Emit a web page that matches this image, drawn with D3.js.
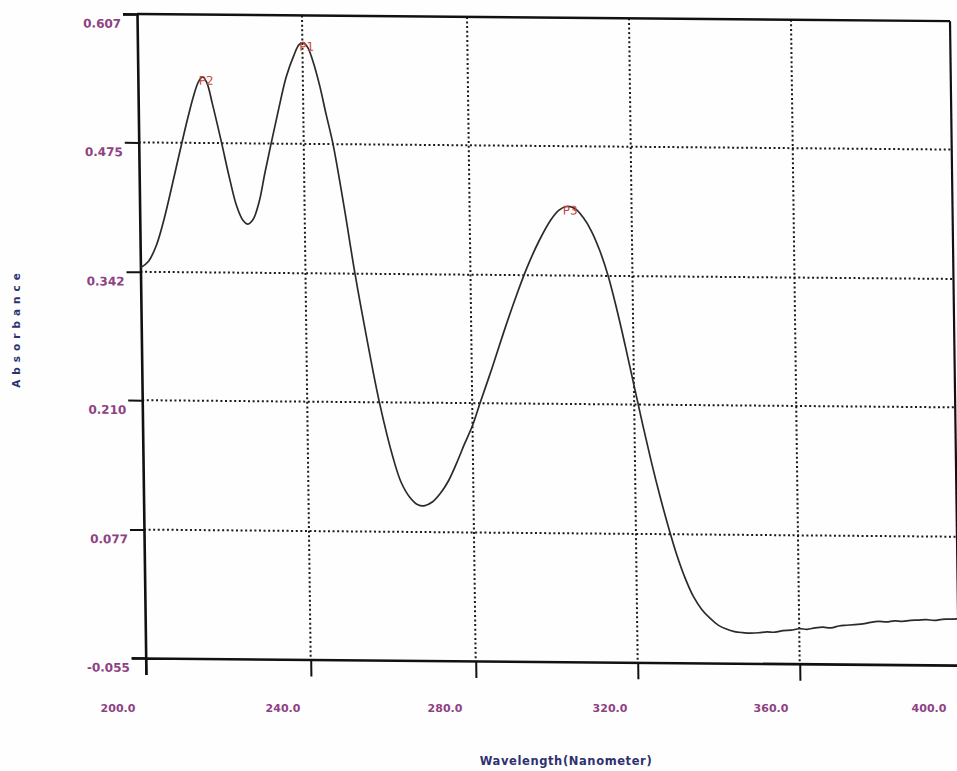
<!DOCTYPE html>
<html>
<head>
<meta charset="utf-8">
<script src="https://cdn.jsdelivr.net/npm/d3@7"></script>
<style>
  html, body { margin: 0; padding: 0; background: #ffffff; }
  svg { display: block; }
</style>
</head>
<body>
<svg id="chart" width="957" height="771"></svg>
<script>
// UV absorbance spectrum, 200–400 nm
const wavelength = [
  200.0, 202.0, 204.0, 206.0, 208.0, 210.0, 212.0, 213.5, 214.7, 215.7, 216.7, 218.0, 220.0, 222.0,
  223.5, 225.0, 226.2, 227.5, 229.0, 230.5, 232.2, 234.0, 236.0, 238.0, 239.2, 240.2, 241.3, 242.5,
  244.0, 245.5, 247.1, 249.6, 252.0, 254.8, 257.5, 260.7, 262.5, 264.5, 266.5, 268.0, 270.0, 272.0,
  274.0, 276.0, 278.0, 280.0, 282.0, 285.0, 288.0, 291.0, 294.0, 297.0, 300.0, 302.0, 304.0, 306.0,
  308.0, 310.0, 312.0, 314.0, 316.0, 318.0, 320.0, 322.0, 324.0, 326.0, 328.0, 330.0, 332.0, 334.0,
  336.0, 338.0, 340.0, 342.0, 344.0, 346.0, 348.0, 350.0, 352.0, 354.0, 356.0, 358.0, 360.0, 362.0,
  364.0, 366.0, 368.0, 370.0, 372.0, 374.0, 376.0, 378.0, 380.0, 382.0, 384.0, 386.0, 388.0, 390.0,
  392.0, 394.0, 396.0, 398.0, 400.0
];
const absorbance = [
  0.346, 0.353, 0.370, 0.398, 0.432, 0.467, 0.501, 0.524, 0.538, 0.543, 0.537, 0.515, 0.477, 0.437,
  0.411, 0.396, 0.392, 0.397, 0.415, 0.445, 0.477, 0.510, 0.544, 0.567, 0.577, 0.579, 0.574, 0.560,
  0.536, 0.506, 0.475, 0.410, 0.342, 0.272, 0.210, 0.152, 0.128, 0.113, 0.105, 0.104, 0.108, 0.117,
  0.130, 0.148, 0.168, 0.187, 0.211, 0.246, 0.283, 0.318, 0.350, 0.377, 0.399, 0.409, 0.413, 0.411,
  0.402, 0.388, 0.368, 0.342, 0.308, 0.270, 0.230, 0.190, 0.152, 0.117, 0.085, 0.056, 0.032, 0.013,
  0.000, -0.009, -0.016, -0.020, -0.0225, -0.0235, -0.024, -0.0235, -0.0225, -0.0228, -0.021, -0.0205, -0.019, -0.0195,
  -0.018, -0.0172, -0.0178, -0.0158, -0.015, -0.0142, -0.0135, -0.0118, -0.0108, -0.0112, -0.010, -0.0104, -0.0094, -0.009,
  -0.0085, -0.0092, -0.008, -0.0078, -0.0073
];

// Marked peaks
const peakNames = ["P1", "P2", "P3"];
const peakWavelength = [240.2, 215.7, 304.0];
const peakAbsorbance = [0.579, 0.543, 0.413];

// Axis ticks
const xTicks = [200, 240, 280, 320, 360, 400];
const xTickLabels = ["200.0", "240.0", "280.0", "320.0", "360.0", "400.0"];
const yTicks = [-0.055, 0.077, 0.210, 0.342, 0.475, 0.607];
const yTickLabels = ["-0.055", "0.077", "0.210", "0.342", "0.475", "0.607"];

const svg = d3.select("#chart");
const W = 813, H = 644;

svg.append("rect").attr("width", 957).attr("height", 771).attr("fill", "#fefefe");

// x is piecewise so the grid keeps the slight perspective of the printout
const x = d3.scaleLinear().domain(xTicks).range([0, 165, 330, 492, 654, 813]);
const y = d3.scaleLinear().domain([-0.055, 0.607]).range([H, 0]);

// plot area, slightly sheared like a printed page on a scanner bed
const g = svg.append("g").attr("transform", "matrix(1,0.0088,0.0135,1,137,14)");

// dotted grid
g.append("g").selectAll("line").data(xTicks.slice(1, -1)).join("line")
  .attr("x1", d => x(d)).attr("x2", d => x(d)).attr("y1", 0).attr("y2", H)
  .attr("stroke", "#1a1a1a").attr("stroke-width", 2).attr("stroke-dasharray", "2,2.6");
g.append("g").selectAll("line").data(yTicks.slice(1, -1)).join("line")
  .attr("x1", 0).attr("x2", W).attr("y1", d => y(d)).attr("y2", d => y(d))
  .attr("stroke", "#1a1a1a").attr("stroke-width", 2).attr("stroke-dasharray", "2,2.6");

// left axis with outward ticks
const yAxis = d3.axisLeft(y).tickValues(yTicks).tickSize(14).tickFormat("");
const ya = g.append("g").call(yAxis);
ya.select(".domain").attr("stroke", "#111").attr("stroke-width", 2.6);
ya.selectAll(".tick line").attr("stroke", "#111").attr("stroke-width", 2);

// bottom axis with outward ticks
const xAxis = d3.axisBottom(x).tickValues(xTicks).tickSize(17).tickFormat("");
const xa = g.append("g").attr("transform", `translate(0,${H})`).call(xAxis);
xa.select(".domain").attr("stroke", "#111").attr("stroke-width", 2.6);
xa.selectAll(".tick line").attr("stroke", "#111").attr("stroke-width", 2);

// top and right frame
g.append("line").attr("x1", 0).attr("x2", W).attr("y1", 0).attr("y2", 0)
  .attr("stroke", "#111").attr("stroke-width", 2.4);
g.append("line").attr("x1", W).attr("x2", W).attr("y1", 0).attr("y2", H)
  .attr("stroke", "#111").attr("stroke-width", 2.2);

// y tick labels
g.append("g").selectAll("text").data(yTicks).join("text")
  .attr("x", -16).attr("y", d => y(d) + 14)
  .attr("text-anchor", "end")
  .attr("font-family", "DejaVu Sans, Verdana, sans-serif")
  .attr("font-size", 12).attr("font-weight", "bold")
  .attr("fill", "#8e4283")
  .text((d, i) => yTickLabels[i]);

// spectrum trace
const pts = wavelength.map((w, i) => [w, absorbance[i]]);
g.append("path").datum(pts)
  .attr("fill", "none").attr("stroke", "#2b2b2b").attr("stroke-width", 1.7)
  .attr("stroke-linejoin", "round")
  .attr("d", d3.line().x(d => x(d[0])).y(d => y(d[1])).curve(d3.curveCatmullRom.alpha(0.5)));

// peak markers
g.append("g").selectAll("text").data(peakNames).join("text")
  .attr("x", (d, i) => x(peakWavelength[i]) - 4)
  .attr("y", (d, i) => y(peakAbsorbance[i]) + 8)
  .attr("font-family", "DejaVu Sans, Verdana, sans-serif")
  .attr("font-size", 12)
  .attr("fill", "#c8463f")
  .text(d => d);

// x tick labels sit left of their ticks, below the axis
const xl = d3.scaleLinear().domain(xTicks).range([118, 283, 445, 610, 771, 929]);
svg.append("g").selectAll("text").data(xTicks).join("text")
  .attr("x", d => xl(d)).attr("y", 712)
  .attr("text-anchor", "middle")
  .attr("font-family", "DejaVu Sans, Verdana, sans-serif")
  .attr("font-size", 11).attr("font-weight", "bold")
  .attr("fill", "#8e4283")
  .text((d, i) => xTickLabels[i]);

// axis titles
svg.append("text")
  .attr("x", 566).attr("y", 765)
  .attr("text-anchor", "middle")
  .attr("font-family", "DejaVu Sans, Verdana, sans-serif")
  .attr("font-size", 11.5).attr("font-weight", "bold")
  .attr("letter-spacing", 0.6)
  .attr("fill", "#2e3170")
  .text("Wavelength(Nanometer)");

svg.append("text")
  .attr("transform", "translate(20,328) rotate(-90)")
  .attr("text-anchor", "middle")
  .attr("font-family", "DejaVu Sans, Verdana, sans-serif")
  .attr("font-size", 10.5).attr("font-weight", "bold")
  .attr("letter-spacing", 5)
  .attr("fill", "#2e3170")
  .text("Absorbance");
</script>
</body>
</html>
